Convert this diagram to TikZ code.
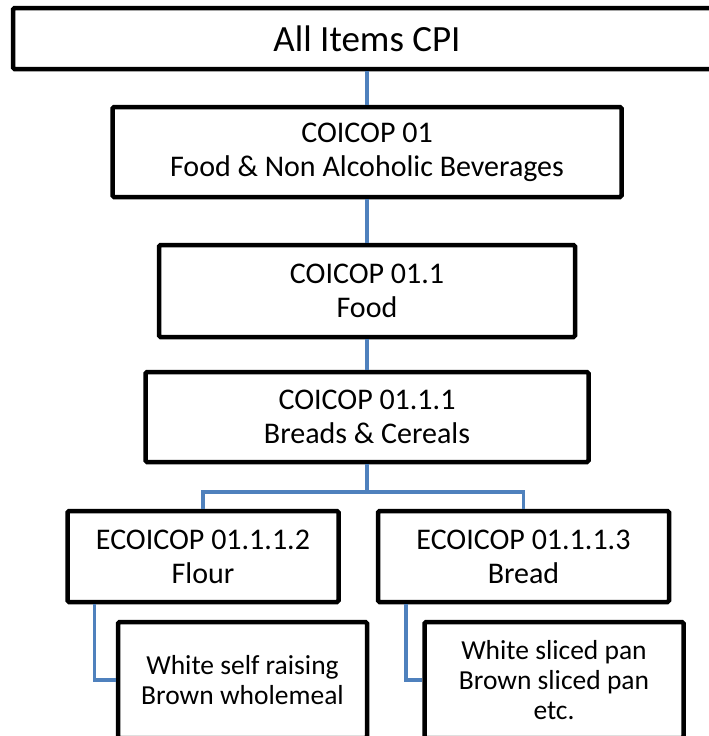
\documentclass[tikz,border=0pt]{standalone}
\usepackage{fontspec}
\setmainfont{Carlito}
\usetikzlibrary{positioning}
\definecolor{linkblue}{HTML}{4F81BD}
\tikzset{
  level/.style={draw, line width=4.5pt, rounded corners=1.5pt, align=center,
    inner sep=0pt, font=\fontsize{30}{34}\selectfont},
  items/.style={level, font=\fontsize{27.5}{30}\selectfont},
  link/.style={linkblue, line width=3.5pt},
}

\begin{document}
\begin{tikzpicture}[x=1pt, y=-1pt]
    \useasboundingbox (0,0) rectangle (709,736);
    \clip (0,0) rectangle (709,736);
    % all items
    \node[level, minimum width=708pt, minimum height=61pt,
      font=\fontsize{37}{42}\selectfont] (cpi) at (367,38.5) {All Items CPI};
    % division
    \node[level, minimum width=509pt, minimum height=90pt] (c01) at (367,152)
      {COICOP 01\\Food \& Non Alcoholic Beverages};
    % group
    \node[level, minimum width=416pt, minimum height=92pt] (c011) at (367,291)
      {COICOP 01.1\\Food};
    % class
    \node[level, minimum width=443pt, minimum height=90pt] (c0111) at (367,417)
      {COICOP 01.1.1\\Breads \& Cereals};
    % sub-classes
    \node[level, minimum width=271pt, minimum height=91pt] (flour) at (203,556.5)
      {ECOICOP 01.1.1.2\\Flour};
    \node[level, minimum width=291pt, minimum height=91pt] (bread) at (523.5,556.5)
      {ECOICOP 01.1.1.3\\Bread};
    % items
    \node[items, minimum width=249pt, minimum height=116pt] (flouritems) at (242.5,680)
      {White self raising\\Brown wholemeal};
    \node[items, minimum width=259pt, minimum height=116pt] (breaditems) at (554,680)
      {White sliced pan\\Brown sliced pan\\etc.};
    % links down the tree
    \draw[link] (cpi) -- (c01);
    \draw[link] (c01) -- (c011);
    \draw[link] (c011) -- (c0111);
    \coordinate (fork) at (367,492);
    \draw[link] (c0111) -- (fork);
    \draw[link] (fork) -| (flour);
    \draw[link] (fork) -| (bread);
    % links to the items
    \draw[link] ([xshift=29pt]flour.south west) |- (flouritems);
    \draw[link] ([xshift=30pt]bread.south west) |- (breaditems);
\end{tikzpicture}
\end{document}
